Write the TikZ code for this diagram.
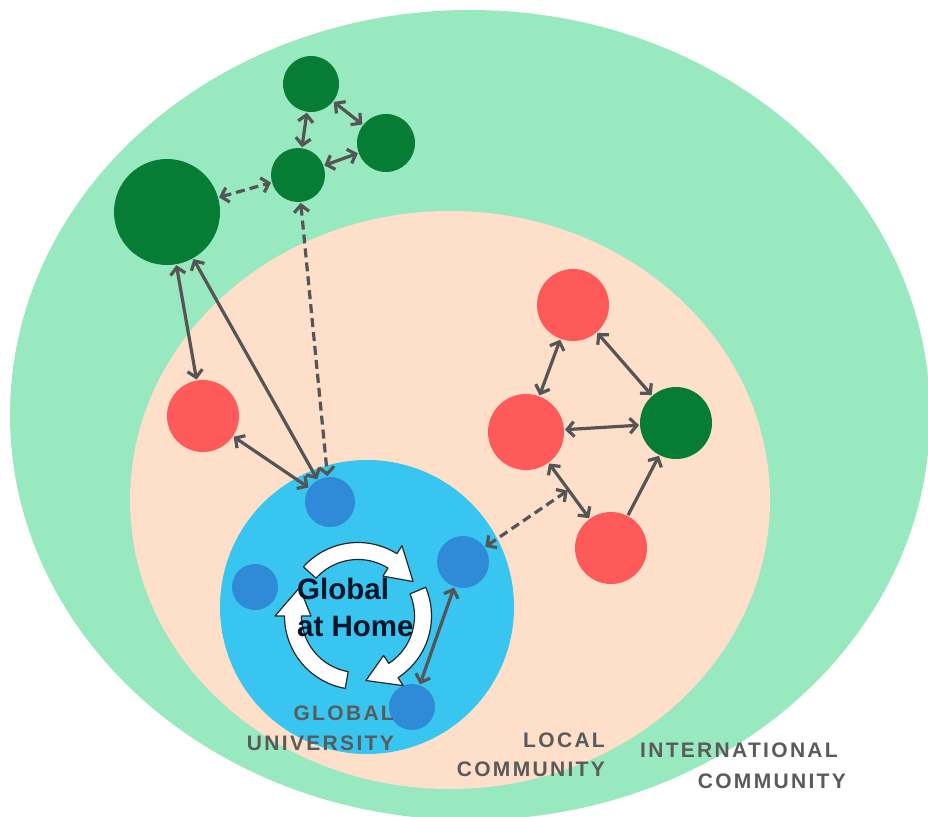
\documentclass[tikz,border=0pt]{standalone}
\usepackage{fontspec}
\setmainfont{Liberation Sans}
\newfontfamily\lblfont[LetterSpace=11]{Liberation Sans}
\usetikzlibrary{arrows.meta,calc}
\definecolor{intgreen}{HTML}{98E9BF}
\definecolor{peach}{HTML}{FDDFCA}
\definecolor{unibl}{HTML}{38C6F0}
\definecolor{dotbl}{HTML}{2F8AD8}
\definecolor{dkgreen}{HTML}{067C34}
\definecolor{redn}{HTML}{FF5A5A}
\definecolor{linegray}{HTML}{555555}
\definecolor{txtgray}{HTML}{5A5A5A}
\definecolor{gahtext}{HTML}{0A1428}
\tikzset{
 blob/.style={circle,inner sep=0pt,outer sep=0pt,minimum size=#1},
 gnode/.style={blob=#1,fill=dkgreen},
 rnode/.style={blob=#1,fill=redn},
 bnode/.style={blob=#1,fill=dotbl},
 link/.style={draw=linegray,line width=3.2pt,shorten <=1pt,shorten >=1pt},
 both/.style={link,{Straight Barb[length=7pt,width=15pt]}-{Straight Barb[length=7pt,width=15pt]}},
 one/.style={link,-{Straight Barb[length=7pt,width=15pt]}},
 dashlink/.style={dash pattern=on 9pt off 5pt},
 lbl/.style={text=txtgray,font=\lblfont\bfseries\fontsize{21}{24}\selectfont,inner sep=0pt},
 gah/.style={text=gahtext,font=\bfseries\fontsize{29.5}{32}\selectfont,inner sep=0pt},
 cyc/.style={fill=white,draw=black!85,line width=1.2pt,line join=round},
}
\newcommand\cycarrow[1]{%
 \pgfmathsetmacro\ta{#1}\pgfmathsetmacro\tb{#1+80}\pgfmathsetmacro\tc{#1+106}%
 \filldraw[cyc] plot[domain=\ta:\tb,samples=40] ({358+73.5*cos(\x)},{616+73.5*sin(\x)})
  -- ({358+83*cos(\tb)},{616+83*sin(\tb)})
  -- ({358+65*cos(\tc)},{616+65*sin(\tc)})
  -- ({358+47*cos(\tb)},{616+47*sin(\tb)})
  -- plot[domain=\tb:\ta,samples=40] ({358+56.5*cos(\x)},{616+56.5*sin(\x)}) -- cycle;}
\begin{document}
\begin{tikzpicture}[x=1pt,y=-1pt]
\path[use as bounding box] (0,0) rectangle (928,816);
\clip (0,0) rectangle (928,816);
\fill[white] (0,0) rectangle (928,816);
% background regions
\fill[intgreen] (470,415) ellipse [x radius=460pt, y radius=405pt];
\fill[peach] (450,500) ellipse [x radius=320pt, y radius=289pt];
% nodes
\node[blob=294pt, fill=unibl] (U) at (367,607) {};
\node[gnode=106pt] (G0) at (167,212) {};
\node[gnode=54pt] (G1) at (298,175) {};
\node[gnode=56pt] (G2) at (311,84) {};
\node[gnode=58pt] (G3) at (386,143) {};
\node[rnode=72pt] (R0) at (203,416) {};
\node[rnode=72pt] (R1) at (573,305) {};
\node[rnode=76pt] (R2) at (526,432) {};
\node[gnode=72pt] (G4) at (676,423) {};
\node[rnode=72pt] (R3) at (611,548) {};
\node[bnode=50pt] (B1) at (330,502) {};
\node[bnode=46pt] (B2) at (255,587) {};
\node[bnode=52pt] (B3) at (463,562) {};
\node[bnode=46pt] (B4) at (412,707) {};
% connectors
\draw[both,dashlink] (G0) -- (G1);
\draw[both] (G1) -- (G2);
\draw[both] (G2) -- (G3);
\draw[both] (G1) -- (G3);
\draw[both,dashlink] (G1) -- (B1);
\draw[both] (G0) -- (R0);
\draw[both] (G0) -- (B1);
\draw[both] (R0) -- (B1);
\draw[both] (R1) -- (R2);
\draw[both] (R1) -- (G4);
\draw[both] (R2) -- (G4);
\draw[both] (R2) -- (R3);
\draw[one] (R3) -- (G4);
\coordinate (M) at ($(R2)!0.5!(R3)$);
\draw[both,dashlink] (B3) -- (M);
\draw[both] (B3) -- (B4);
% cycle arrows
\cycarrow{-138}
\cycarrow{-23}
\cycarrow{100}
% texts
\node[gah,anchor=base west] (h1) at (297,599) {Global};
\node[gah,anchor=base west] (h2) at (297,636) {at Home};
\node[lbl,anchor=base east] (l1) at (394,720) {GLOBAL};
\node[lbl,anchor=base east] (l2) at (394,750) {UNIVERSITY};
\node[lbl,anchor=base east] (l3) at (605,747) {LOCAL};
\node[lbl,anchor=base east] (l4) at (605,776) {COMMUNITY};
\node[lbl,anchor=base east] (l5) at (838,757) {INTERNATIONAL};
\node[lbl,anchor=base east] (l6) at (846,788) {COMMUNITY};
\end{tikzpicture}
\end{document}
